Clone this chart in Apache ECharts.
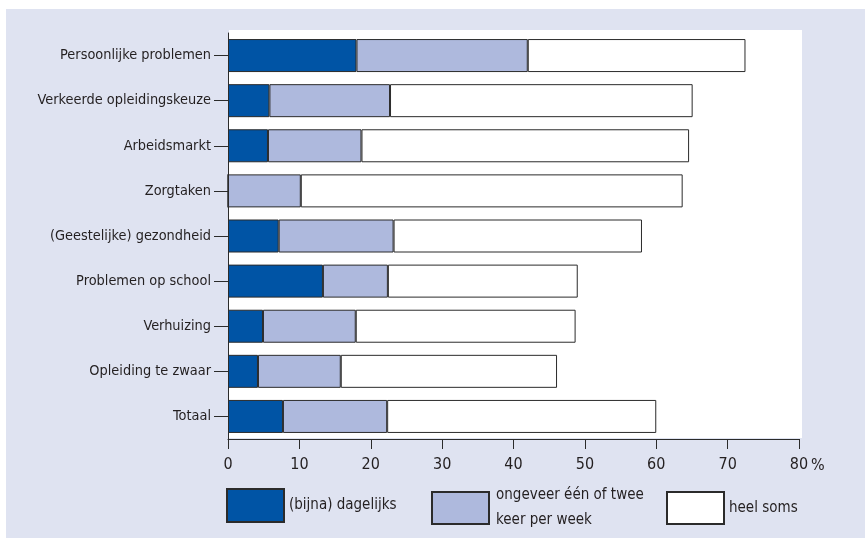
<!DOCTYPE html>
<html>
<head>
<meta charset="utf-8">
<script src="https://cdn.jsdelivr.net/npm/echarts@6/dist/echarts.min.js"></script>
<style>
html,body{margin:0;padding:0;background:#fff;}
#c{width:865px;height:538px;}
</style>
</head>
<body>
<div id="c"></div>
<script>
const categories = ['Persoonlijke problemen','Verkeerde opleidingskeuze','Arbeidsmarkt','Zorgtaken','(Geestelijke) gezondheid','Problemen op school','Verhuizing','Opleiding te zwaar','Totaal'];
const daily = [18.0, 5.8, 5.6, 0, 7.1, 13.3, 4.9, 4.2, 7.7];
const weekly = [24.0, 16.9, 13.1, 10.2, 16.1, 9.1, 13.0, 11.6, 14.6];
const sometimes = [30.5, 42.4, 45.9, 53.5, 34.8, 26.6, 30.8, 30.3, 37.7];
const seriesNames = ['(bijna) dagelijks','ongeveer één of twee keer per week','heel soms'];
const xTicks = [0, 80, 10];

const FONT = '"Liberation Sans Narrow", "DejaVu Sans Condensed", sans-serif';
const TXT = '#231f20';
const LINE = '#2b2b2b';

const chart = echarts.init(document.getElementById('c'));
const border = {borderColor: LINE, borderWidth: 1};
chart.setOption({
  animation: false,
  textStyle: {fontFamily: FONT},
  graphic: [
    {type: 'rect', z: -10, shape: {x: 6, y: 9, width: 859, height: 529}, style: {fill: '#dfe3f1'}, silent: true},
    {type: 'rect', z: -9, shape: {x: 229, y: 30, width: 573, height: 408}, style: {fill: '#ffffff'}, silent: true},
    {type: 'text', left: 811, top: 458, style: {text: '%', fontFamily: FONT, fontSize: 16, fill: TXT}, silent: true}
  ],
  grid: {left: 228, right: 66, top: 33, bottom: 99},
  xAxis: {
    type: 'value', min: xTicks[0], max: xTicks[1], interval: xTicks[2],
    axisLine: {show: true, lineStyle: {color: LINE, width: 1}},
    axisTick: {show: true, length: 10, lineStyle: {color: LINE}},
    splitLine: {show: false},
    axisLabel: {color: TXT, fontSize: 16, margin: 18, fontFamily: FONT}
  },
  yAxis: {
    type: 'category', data: categories, inverse: true,
    axisLine: {show: true, lineStyle: {color: LINE, width: 1}},
    axisTick: {show: true, length: 14, alignWithLabel: true, lineStyle: {color: LINE}},
    axisLabel: {color: TXT, fontSize: 14.4, margin: 17, fontFamily: FONT}
  },
  legend: [
    {left: 226, top: 488, padding: 0, itemWidth: 57, itemHeight: 33, selectedMode: false, icon: 'rect',
     data: [seriesNames[0]], textStyle: {color: TXT, fontSize: 15, fontFamily: FONT}},
    {left: 431, top: 483, padding: 0, itemWidth: 57, itemHeight: 32, selectedMode: false, icon: 'rect',
     data: [seriesNames[1]], formatter: () => 'ongeveer één of twee\nkeer per week',
     textStyle: {color: TXT, fontSize: 15, lineHeight: 25, fontFamily: FONT, padding: [0, 0, 0, 2]}},
    {left: 666, top: 491, padding: 0, itemWidth: 57, itemHeight: 32, selectedMode: false, icon: 'rect',
     data: [seriesNames[2]], textStyle: {color: TXT, fontSize: 15, fontFamily: FONT}}
  ],
  series: [
    {name: seriesNames[0], type: 'bar', stack: 't', data: daily, barWidth: 33, itemStyle: Object.assign({color: '#0054a5'}, border)},
    {name: seriesNames[1], type: 'bar', stack: 't', data: weekly, barWidth: 33, itemStyle: Object.assign({color: '#aeb9dd'}, border)},
    {name: seriesNames[2], type: 'bar', stack: 't', data: sometimes, barWidth: 33, itemStyle: Object.assign({color: '#ffffff'}, border)}
  ]
});
</script>
</body>
</html>
